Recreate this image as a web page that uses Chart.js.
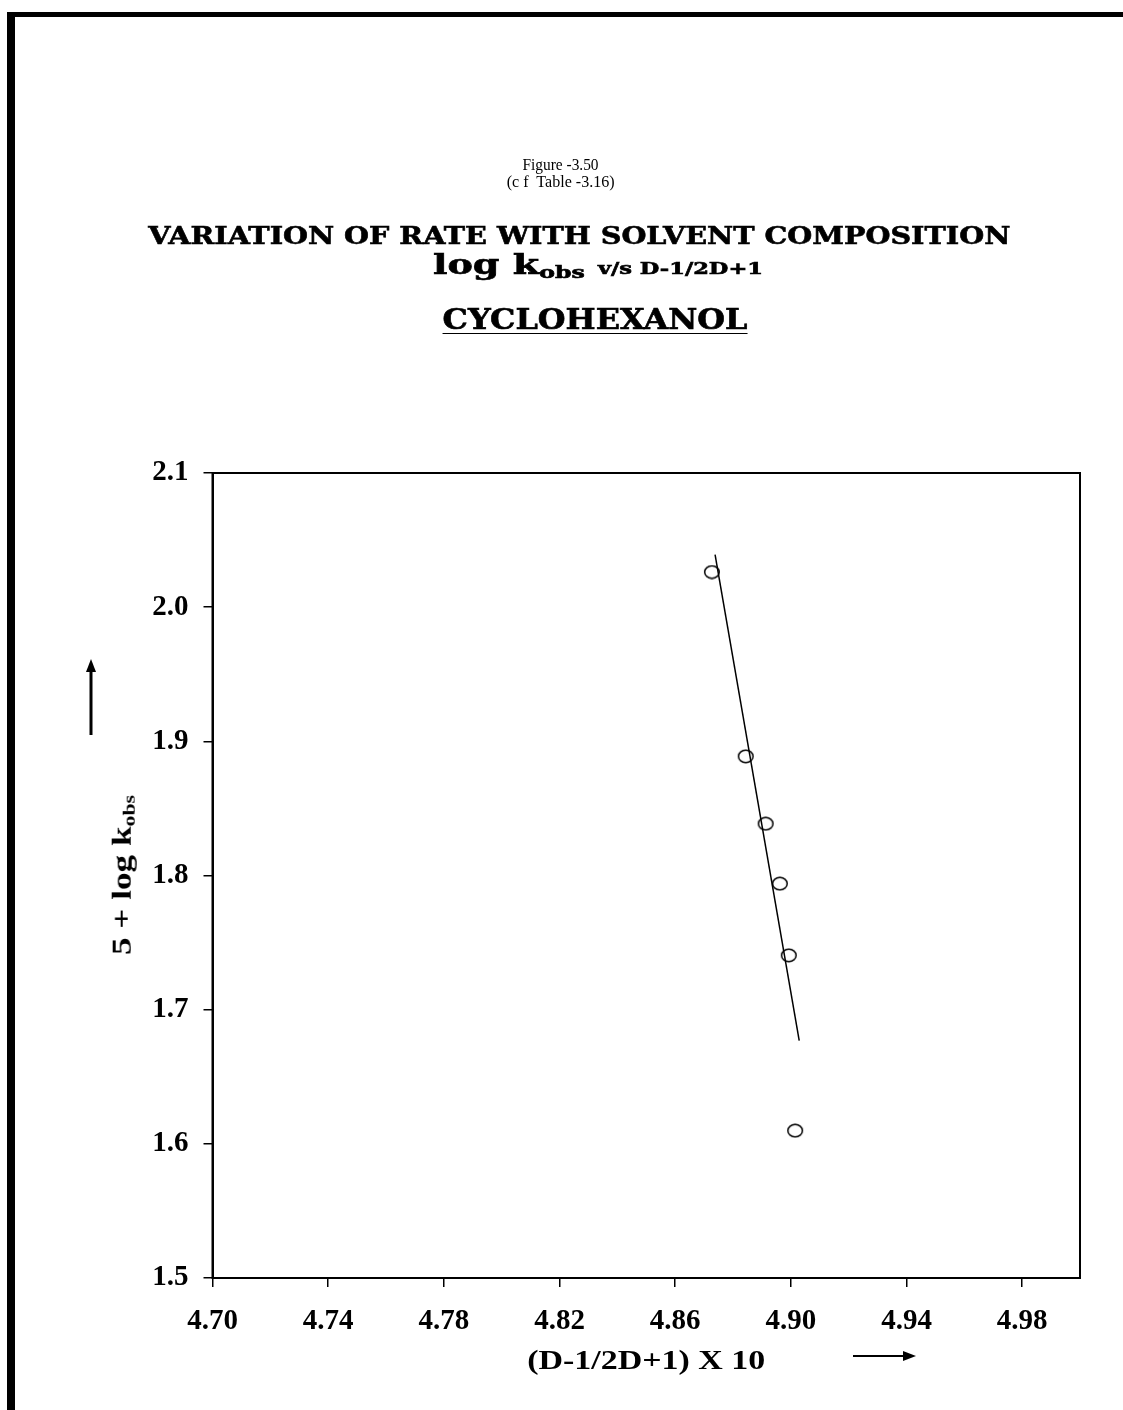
<!DOCTYPE html>
<html>
<head>
<meta charset="utf-8">
<script src="https://cdn.jsdelivr.net/npm/chart.js@4.4.0/dist/chart.umd.min.js"></script>
<style>
  html, body { margin: 0; padding: 0; background: #fff; }
  #page { position: relative; width: 1123px; height: 1410px; overflow: hidden; }
  #chart { position: absolute; left: 0; top: 0; }
  .bar { position: absolute; background: #000; }
  .t { position: absolute; white-space: nowrap; color: #000; line-height: 1; left: 0; top: 0; }
  .times { font-family: "Liberation Serif", "Times New Roman", serif; }
  .book { font-family: "DejaVu Serif", serif; font-weight: bold; -webkit-text-stroke: 0.6px #000; }
  sub { font-size: 62%; vertical-align: -0.25em; line-height: 0; }
</style>
</head>
<body>
<div id="page">
  <canvas id="chart" width="1123" height="1410"></canvas>
  <div class="bar" style="left:7px; top:12px; width:1116px; height:5px;"></div>
  <div class="bar" style="left:7px; top:12px; width:8px; height:1398px;"></div>

  <div id="fig1" class="t times" style="font-size:16px;">Figure -3.50</div>
  <div id="fig2" class="t times" style="font-size:16px;">(c f&nbsp; Table -3.16)</div>
  <div id="title1" class="t book" style="font-size:24px;">VARIATION OF RATE WITH SOLVENT COMPOSITION</div>
  <div id="title2" class="t book" style="font-size:27px;">log k<sub>obs</sub> <span style="font-size:16px;">v/s D-1/2D+1</span></div>
  <div id="title3" class="t book" style="font-size:28px; text-decoration:underline; text-decoration-thickness:1px; text-underline-offset:4px;">CYCLOHEXANOL</div>
  <div id="ylab" class="t times" style="font-size:28px; font-weight:bold;">5 + log k<sub>obs</sub></div>
  <div id="xlab" class="t times" style="font-size:28px; font-weight:bold;">(D-1/2D+1) X 10</div>
</div>

<script>
// observed points
const obsX = [4.8727, 4.8844, 4.8913, 4.8962, 4.8993, 4.9015];
const obsY = [2.0262, 1.8888, 1.8386, 1.7939, 1.7405, 1.6098];

// fitted straight line (two end points)
const fitX = [4.8738, 4.9029];
const fitY = [2.0391, 1.6769];

const xTicks = [4.70, 4.74, 4.78, 4.82, 4.86, 4.90, 4.94, 4.98];
const yTicks = [1.5, 1.6, 1.7, 1.8, 1.9, 2.0, 2.1];

// open ellipse marker
function makeMarker() {
  const c = document.createElement('canvas');
  c.width = 18; c.height = 15;
  const g = c.getContext('2d');
  g.strokeStyle = '#000';
  g.lineWidth = 1.5;
  g.beginPath();
  g.ellipse(9, 7.5, 7.3, 6.2, 0, 0, Math.PI * 2);
  g.stroke();
  return c;
}

const tickFont = { family: '"Liberation Serif", "Times New Roman", serif', size: 29, weight: 'bold' };

const framePlugin = {
  id: 'frame',
  afterDraw(chart) {
    const { ctx, chartArea: a } = chart;
    ctx.save();
    ctx.strokeStyle = '#000';
    ctx.fillStyle = '#000';
    ctx.lineWidth = 2;
    ctx.strokeRect(a.left, a.top, a.right - a.left, a.bottom - a.top);

    // up arrow beside y label
    ctx.lineWidth = 3;
    ctx.beginPath();
    ctx.moveTo(91, 735);
    ctx.lineTo(91, 668);
    ctx.stroke();
    ctx.beginPath();
    ctx.moveTo(91, 659);
    ctx.lineTo(86, 672);
    ctx.lineTo(96, 672);
    ctx.closePath();
    ctx.fill();

    // right arrow beside x label
    ctx.lineWidth = 2;
    ctx.beginPath();
    ctx.moveTo(853, 1356);
    ctx.lineTo(908, 1356);
    ctx.stroke();
    ctx.beginPath();
    ctx.moveTo(916, 1356);
    ctx.lineTo(903, 1351);
    ctx.lineTo(903, 1361);
    ctx.closePath();
    ctx.fill();
    ctx.restore();
  }
};

new Chart(document.getElementById('chart').getContext('2d'), {
  type: 'scatter',
  data: {
    datasets: [
      {
        label: 'observed',
        data: obsX.map((x, i) => ({ x: x, y: obsY[i] })),
        pointStyle: makeMarker(),
        pointRadius: 8,
        showLine: false
      },
      {
        label: 'fit',
        data: fitX.map((x, i) => ({ x: x, y: fitY[i] })),
        showLine: true,
        borderColor: '#000',
        borderWidth: 1.5,
        pointRadius: 0
      }
    ]
  },
  options: {
    responsive: false,
    animation: false,
    devicePixelRatio: 1,
    layout: { padding: { left: 0, top: 473, right: 43, bottom: 62 } },
    plugins: {
      legend: { display: false },
      tooltip: { enabled: false }
    },
    scales: {
      x: {
        type: 'linear',
        min: 4.70,
        max: 5.00,
        afterBuildTicks: s => { s.ticks = xTicks.map(v => ({ value: v })); },
        afterFit: s => { s.height = 70; },
        ticks: { callback: v => v.toFixed(2), font: tickFont, color: '#000', padding: 17, maxRotation: 0 },
        grid: { drawOnChartArea: false, color: '#000', lineWidth: 1.5, tickLength: 9 },
        border: { color: '#000', width: 2 }
      },
      y: {
        type: 'linear',
        min: 1.5,
        max: 2.1,
        afterBuildTicks: s => { s.ticks = yTicks.map(v => ({ value: v })); },
        afterFit: s => { s.width = 212.5; },
        ticks: { callback: v => v.toFixed(1), font: tickFont, color: '#000', padding: 15 },
        grid: { drawOnChartArea: false, color: '#000', lineWidth: 1.5, tickLength: 9 },
        border: { color: '#000', width: 2 }
      }
    }
  },
  plugins: [framePlugin]
});

// put a text block centred at (cx, cy), stretched to width w
function place(id, cx, cy, w, rotate) {
  const el = document.getElementById(id);
  const r = el.getBoundingClientRect();
  const k = w ? w / r.width : 1;
  el.style.left = (cx - r.width / 2) + 'px';
  el.style.top = (cy - r.height / 2) + 'px';
  el.style.transformOrigin = '50% 50%';
  el.style.transform = (rotate ? 'rotate(-90deg) ' : '') + 'scaleX(' + k + ')';
}

place('fig1', 561, 165, 76);
place('fig2', 561, 182, 108);
place('title1', 579, 236, 862);
place('title2', 598, 264, 330);
place('title3', 595, 320, 305);
place('ylab', 122, 875, 160, true);
place('xlab', 646, 1360, 238);
</script>
</body>
</html>
